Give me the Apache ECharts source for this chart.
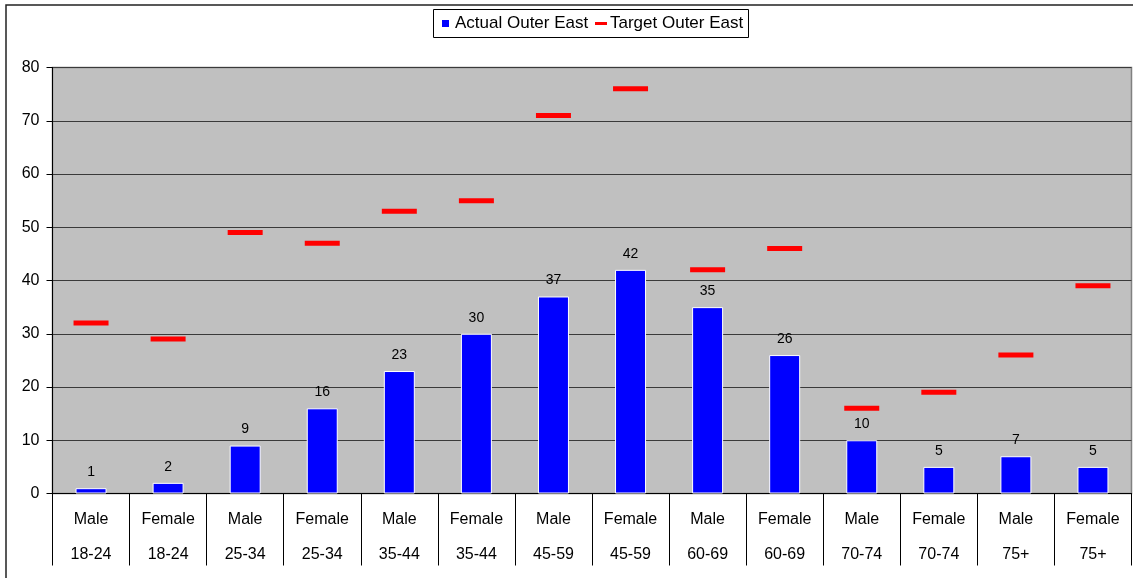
<!DOCTYPE html>
<html>
<head>
<meta charset="utf-8">
<script src="https://cdn.jsdelivr.net/npm/echarts@6/dist/echarts.min.js"></script>
<style>
html,body{margin:0;padding:0;background:#fff;}
#chart{width:1133px;height:578px;}
</style>
</head>
<body>
<div id="chart"></div>
<script>
const sexes = ['Male','Female','Male','Female','Male','Female','Male','Female','Male','Female','Male','Female','Male','Female'];
const ages = ['18-24','18-24','25-34','25-34','35-44','35-44','45-59','45-59','60-69','60-69','70-74','70-74','75+','75+'];
const actualOuterEast = [1,2,9,16,23,30,37,42,35,26,10,5,7,5];
const targetOuterEast = [32,29,49,47,53,55,71,76,42,46,16,19,26,39];
const yTicks = [0,10,20,30,40,50,60,70,80];

const categories = sexes.map((s,i) => s + '\n' + ages[i]);
const FONT = "'Liberation Sans', Arial, sans-serif";

const chart = echarts.init(document.getElementById('chart'), null, {renderer:'canvas'});
chart.setOption({
  animation: false,
  backgroundColor: '#fff',
  textStyle: {fontFamily: FONT},
  graphic: [
    {type:'rect', z:-10, shape:{x:6, y:5, width:1140, height:600}, style:{fill:'#fff', stroke:'#222', lineWidth:1.5}},
    {type:'rect', z:0, shape:{x:433.5, y:9.5, width:315, height:28}, style:{fill:'#fff', stroke:'#000', lineWidth:1}}
  ],
  legend: [
    {
      data:[{name:'Actual Outer East', icon:'rect'}],
      left: 440, top: 15, padding: 0,
      itemWidth: 9, itemHeight: 9,
      textStyle:{fontSize:17, color:'#000', fontFamily: FONT, padding:[0,0,0,0]},
      selectedMode:false, z: 5
    },
    {
      data:[{name:'Target Outer East', icon:'rect'}],
      left: 595, top: 15, padding: 0,
      itemWidth: 12, itemHeight: 3,
      textStyle:{fontSize:17, color:'#000', fontFamily: FONT, padding:[0,0,0,-2]},
      selectedMode:false, z: 5
    }
  ],
  grid: {
    left: 52.5, right: 1.5, top: 67.5, bottom: 84.5,
    show: true, backgroundColor: '#C0C0C0', borderColor: '#808080', borderWidth: 1.5,
    containLabel: false
  },
  xAxis: {
    type: 'category',
    data: categories,
    boundaryGap: true,
    axisLine: {show:true, lineStyle:{color:'#000', width:1}},
    axisTick: {show:true, interval:0, length:72, lineStyle:{color:'#000', width:1}},
    axisLabel: {
      interval:0, fontSize:16, color:'#000', fontFamily: FONT,
      lineHeight: 35, margin: 9
    },
    splitLine: {show:false}
  },
  yAxis: {
    type: 'value',
    min: yTicks[0], max: yTicks[yTicks.length-1], interval: 10,
    axisLine: {show:true, lineStyle:{color:'#000', width:1}},
    axisTick: {show:true, length:6, lineStyle:{color:'#000'}},
    axisLabel: {fontSize:16, color:'#000', fontFamily: FONT, margin: 13},
    splitLine: {show:true, lineStyle:{color:'#3a3a3a', width:1.2}}
  },
  series: [
    {
      name: 'Actual Outer East',
      type: 'bar',
      data: actualOuterEast,
      barWidth: 31,
      itemStyle: {color:'#0000FF', borderColor:'#ffffff', borderWidth:1},
      label: {show:true, position:'top', distance:9, fontSize:14, color:'#000', fontFamily: FONT},
      emphasis: {disabled:true},
      z: 2
    },
    {
      name: 'Target Outer East',
      type: 'scatter',
      data: targetOuterEast,
      symbol: 'rect',
      symbolSize: [35,5],
      itemStyle: {color:'#FF0000', opacity:1},
      emphasis: {disabled:true},
      z: 3
    }
  ]
});
</script>
</body>
</html>
